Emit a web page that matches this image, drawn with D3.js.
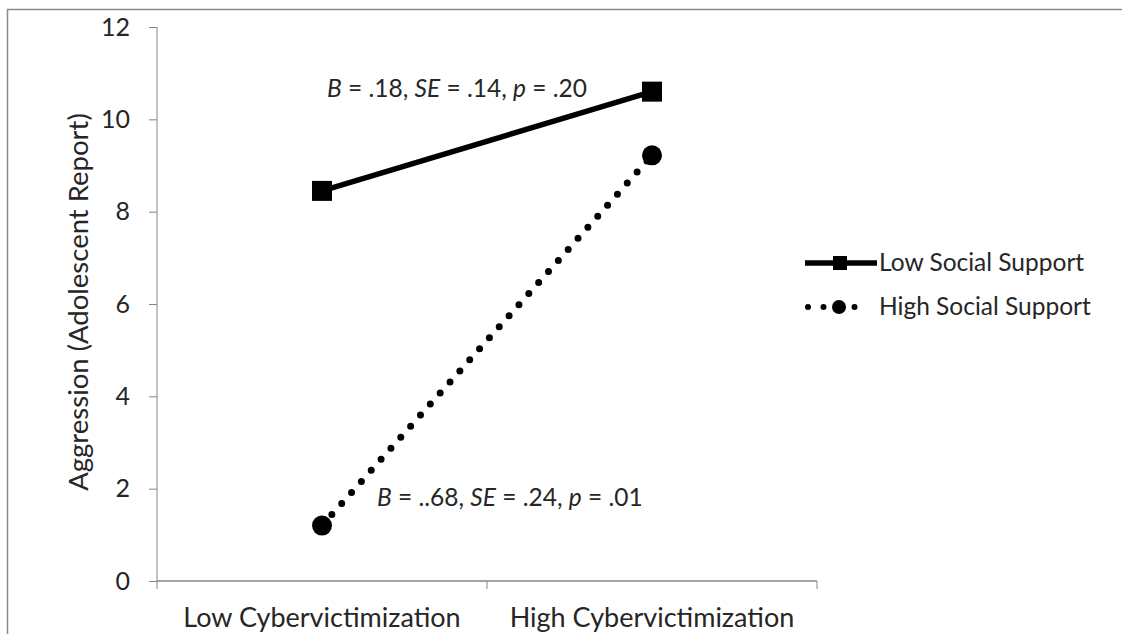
<!DOCTYPE html>
<html>
<head>
<meta charset="utf-8">
<script src="https://cdn.jsdelivr.net/npm/d3@7/dist/d3.min.js"></script>
<style>
  html, body { margin: 0; padding: 0; background: #fff; }
  svg { display: block; }
  text { font-family: Lato, "Open Sans", sans-serif; fill: #262626; }
</style>
</head>
<body>
<svg id="chart" width="1122" height="634"></svg>
<script>
// Categories on the x axis
const categories = ["Low Cybervictimization", "High Cybervictimization"];
// Series names
const seriesNames = ["Low Social Support", "High Social Support"];
// Aggression means per category
const lowSupportValues = [8.45, 10.6];
const highSupportValues = [1.2, 9.22];
// Y axis ticks
const yTicks = [0, 2, 4, 6, 8, 10, 12];
// Slope annotations
const annotations = [
  { series: 0, parts: [["B", true], [" = .18, ", false], ["SE", true], [" = .14, ", false], ["p", true], [" = .20", false]] },
  { series: 1, parts: [["B", true], [" = ..68, ", false], ["SE", true], [" = .24, ", false], ["p", true], [" = .01", false]] }
];

const svg = d3.select("#chart");
const axisColor = "#868686";

// frame
svg.append("path")
  .attr("d", "M7.5,634 V9.5 H1122")
  .attr("fill", "none").attr("stroke", "#8a8a8a").attr("stroke-width", 1.5);

const x = d3.scaleBand().domain(categories).range([157, 817]);
const y = d3.scaleLinear().domain([0, 12]).range([581, 27]);

// y axis
const yAxis = svg.append("g").attr("transform", "translate(157,0)")
  .call(d3.axisLeft(y).tickValues(yTicks).tickSize(8).tickPadding(19).tickFormat(d3.format("d")));
yAxis.select(".domain").attr("stroke", axisColor).attr("d", `M0,${y(12)}V${y(0)}`);
yAxis.selectAll(".tick line").attr("stroke", axisColor);
yAxis.selectAll(".tick text").attr("font-size", 25).attr("font-family", "Lato, sans-serif").attr("fill", "#262626");

// x axis with boundary ticks
const xAxisG = svg.append("g").attr("transform", `translate(0,${y(0)})`);
xAxisG.append("line").attr("x1", x.range()[0]).attr("x2", x.range()[1])
  .attr("stroke", axisColor).attr("stroke-width", 1.5);
const boundaries = [x(categories[0]), x(categories[1]), x(categories[1]) + x.bandwidth()];
xAxisG.selectAll("line.tk").data(boundaries).join("line").attr("class", "tk")
  .attr("x1", d => d).attr("x2", d => d).attr("y1", 0).attr("y2", 8)
  .attr("stroke", axisColor);
xAxisG.selectAll("text").data(categories).join("text")
  .attr("x", d => x(d) + x.bandwidth() / 2).attr("y", 46)
  .attr("text-anchor", "middle").attr("font-size", 27)
  .text(d => d);

// y axis title
svg.append("text")
  .attr("transform", "translate(88,302) rotate(-90)")
  .attr("text-anchor", "middle").attr("font-size", 27.5)
  .text("Aggression (Adolescent Report)");

const cx = d => x(d) + x.bandwidth() / 2;
const line = d3.line().x(d => cx(d.cat)).y(d => y(d.v));

const lowData = categories.map((c, i) => ({ cat: c, v: lowSupportValues[i] }));
const highData = categories.map((c, i) => ({ cat: c, v: highSupportValues[i] }));

// High social support: dotted line with circles
svg.append("path").datum(highData).attr("d", line)
  .attr("fill", "none").attr("stroke", "#000").attr("stroke-width", 7)
  .attr("stroke-linecap", "round").attr("stroke-dasharray", "0 14.8");
svg.selectAll("circle.hi").data(highData).join("circle").attr("class", "hi")
  .attr("cx", d => cx(d.cat)).attr("cy", d => y(d.v)).attr("r", 10).attr("fill", "#000");

// Low social support: solid line with squares
svg.append("path").datum(lowData).attr("d", line)
  .attr("fill", "none").attr("stroke", "#000").attr("stroke-width", 5.5);
svg.selectAll("rect.lo").data(lowData).join("rect").attr("class", "lo")
  .attr("x", d => cx(d.cat) - 10).attr("y", d => y(d.v) - 10)
  .attr("width", 20).attr("height", 20).attr("fill", "#000");

// Slope annotations
const annPos = [[327, 97], [377, 506]];
annotations.forEach((a, i) => {
  const t = svg.append("text").attr("x", annPos[i][0]).attr("y", annPos[i][1]).attr("font-size", 24.5);
  a.parts.forEach(([s, it]) => t.append("tspan").attr("font-style", it ? "italic" : "normal").text(s));
});

// Legend
const legend = svg.append("g");
const ly = [263, 307];
legend.append("line").attr("x1", 805).attr("x2", 877).attr("y1", ly[0]).attr("y2", ly[0])
  .attr("stroke", "#000").attr("stroke-width", 5.5);
legend.append("rect").attr("x", 833).attr("y", ly[0] - 7).attr("width", 14).attr("height", 14).attr("fill", "#000");
legend.append("line").attr("x1", 808).attr("x2", 870).attr("y1", ly[1]).attr("y2", ly[1])
  .attr("stroke", "#000").attr("stroke-width", 6).attr("stroke-linecap", "round")
  .attr("stroke-dasharray", "0 15.5");
legend.append("circle").attr("cx", 839).attr("cy", ly[1]).attr("r", 7).attr("fill", "#000");
legend.selectAll("text").data(seriesNames).join("text")
  .attr("x", 879).attr("y", (d, i) => ly[i] + 8).attr("font-size", 24.5)
  .text(d => d);
</script>
</body>
</html>
